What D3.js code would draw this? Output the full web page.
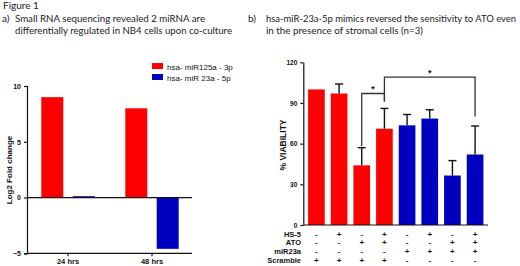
<!DOCTYPE html>
<html><head><meta charset="utf-8">
<script src="https://cdn.jsdelivr.net/npm/d3@7/dist/d3.min.js"></script>
<style>
body{margin:0;background:#fff;}
svg{display:block;}
.ttl{font-family:Lato,"Open Sans",sans-serif;font-size:10px;fill:#222;}
.ax{font-family:"Liberation Sans",Arial,sans-serif;font-weight:bold;font-size:7px;fill:#111;}
.lg{font-family:"Liberation Sans",Arial,sans-serif;font-size:8px;fill:#111;}
</style></head>
<body>
<svg id="c" width="520" height="266"></svg>
<script>
// ---- Panel a data ----
const groupsA = ["24 hrs", "48 hrs"];
const seriesA = ["hsa- miR125a - 3p", "hsa- miR 23a - 5p"];
const mir125a = [9.0, 8.0];
const mir23a = [0.12, -4.6];
const ticksA = [-5, 0, 5, 10];
const colorsA = ["#ff0000", "#0000bf"];

// ---- Panel b data ----
const conditionsB = ["c1","c2","c3","c4","c5","c6","c7","c8"];
const viability = [100, 97, 44, 71, 73.5, 78.5, 36.5, 52];
const errUp = [0, 7, 13, 15, 8, 6.5, 11, 21];
const colorsB = ["#ff0000","#ff0000","#ff0000","#ff0000","#0000bf","#0000bf","#0000bf","#0000bf"];
const ticksB = [0, 30, 60, 90, 120];
const rowLabels = ["HS-5", "ATO", "miR23a", "Scramble"];
const rowHS5 = ["-","+","-","+","-","+","-","+"];
const rowATO = ["-","-","+","+","-","-","+","+"];
const rowMiR = ["-","-","-","-","+","+","+","+"];
const rowScr = ["+","+","+","+","-","-","-","-"];
// significance brackets: [fromIndex, toIndex, level, leftLegEnd, rightLegEnd]
const brackets = [[2, 3, 97, 58, 91], [3, 7, 109, 91, 80]];

const svg = d3.select("#c");

// ---- Titles ----
function title(x, y, t, len, fs) {
  const el = svg.append("text").attr("class","ttl").attr("x",x).attr("y",y).text(t);
  if (fs) el.style("font-size", fs + "px");
  if (len) el.attr("textLength", len).attr("lengthAdjust","spacingAndGlyphs");
}
title(3, 9, "Figure 1");
title(2, 22, "a)");
title(15, 22, "Small RNA sequencing revealed 2 miRNA are", 190);
title(15, 34, "differentially regulated in NB4 cells upon co-culture", 217);
title(248, 22, "b)");
title(266, 22, "hsa-miR-23a-5p mimics reversed the sensitivity to ATO even", 250, 9.2);
title(266, 34, "in the presence of stromal cells (n=3)", 157);

// ---- Panel a ----
const yA = d3.scaleLinear().domain([-5, 10]).range([253.3, 86]);
const x0 = d3.scaleBand().domain(groupsA).range([26, 194]).padding(0);
const x1 = d3.scaleBand().domain(seriesA).range([15.3, 68.7]).paddingInner(0.3).paddingOuter(0);
const valsA = [mir125a, mir23a];

groupsA.forEach((g, gi) => {
  seriesA.forEach((s, si) => {
    const v = valsA[si][gi];
    svg.append("rect")
      .attr("x", x0(g) + x1(s))
      .attr("width", x1.bandwidth())
      .attr("y", yA(Math.max(0, v)))
      .attr("height", Math.abs(yA(v) - yA(0)))
      .attr("fill", colorsA[si]);
  });
});

const axA = svg.append("g").attr("transform","translate(27,0)")
  .call(d3.axisLeft(yA).tickValues(ticksA).tickSize(3).tickFormat(d3.format("d")));
axA.selectAll("text").attr("class","ax").attr("fill",null);
axA.selectAll("path,line").attr("stroke","#111").attr("stroke-width",1.2);
// zero line
svg.append("line").attr("x1",27).attr("x2",192).attr("y1",yA(0)).attr("y2",yA(0))
  .attr("stroke","#111").attr("stroke-width",1.2);
// bottom axis
const axAB = svg.append("g").attr("transform",`translate(0,${yA(-5)})`)
  .call(d3.axisBottom(x0).tickSize(3).tickSizeOuter(0));
axAB.select("path").attr("d", `M27,0H192`);
axAB.selectAll("text").attr("class","ax").attr("fill",null).attr("dy","0.6em").style("font-size","7.5px");
axAB.selectAll("path,line").attr("stroke","#111").attr("stroke-width",1.2);
// y title
svg.append("text").attr("class","ax").style("font-size","8px")
  .attr("transform","translate(12,170) rotate(-90)").attr("text-anchor","middle").text("Log2 Fold change");
// legend
seriesA.forEach((s, i) => {
  svg.append("rect").attr("x",152).attr("y",63 + i*11).attr("width",11).attr("height",6).attr("fill",colorsA[i]);
  svg.append("text").attr("class","lg").attr("x",167).attr("y",69.5 + i*11).text(s);
});

// ---- Panel b ----
const yB = d3.scaleLinear().domain([0, 120]).range([225, 62.3]);
const xB = d3.scaleBand().domain(conditionsB).range([304, 487.5]).paddingInner(0.265).paddingOuter(0.18);
const cx = i => xB(conditionsB[i]) + xB.bandwidth()/2;

conditionsB.forEach((c, i) => {
  svg.append("rect").attr("x", xB(c)).attr("width", xB.bandwidth())
    .attr("y", yB(viability[i])).attr("height", yB(0) - yB(viability[i]))
    .attr("fill", colorsB[i]);
  if (errUp[i] > 0) {
    const top = yB(viability[i] + errUp[i]);
    svg.append("line").attr("x1", cx(i)).attr("x2", cx(i)).attr("y1", yB(viability[i])).attr("y2", top)
      .attr("stroke","#111").attr("stroke-width",1.4);
    svg.append("line").attr("x1", cx(i)-4).attr("x2", cx(i)+4).attr("y1", top).attr("y2", top)
      .attr("stroke","#111").attr("stroke-width",1.4);
  }
});

const axB = svg.append("g").attr("transform","translate(303.3,0)")
  .call(d3.axisLeft(yB).tickValues(ticksB).tickSize(3).tickSizeOuter(0));
axB.selectAll("text").attr("class","ax").attr("fill",null).style("font-size","6.5px");
axB.selectAll("path,line").attr("stroke","#111").attr("stroke-width",1.2);
svg.append("line").attr("x1",303.3).attr("x2",488).attr("y1",yB(0)).attr("y2",yB(0))
  .attr("stroke","#111").attr("stroke-width",1.2);
svg.append("text").attr("class","ax").style("font-size","8.5px")
  .attr("transform","translate(286,145) rotate(-90)").attr("text-anchor","middle").text("% VIABILITY");

// brackets
brackets.forEach(b => {
  const [a, e, lvl, l1, l2] = b;
  const p = d3.path();
  p.moveTo(cx(a), yB(l1)); p.lineTo(cx(a), yB(lvl)); p.lineTo(cx(e), yB(lvl)); p.lineTo(cx(e), yB(l2));
  svg.append("path").attr("d", p.toString()).attr("fill","none").attr("stroke","#333").attr("stroke-width",1.3);
  svg.append("text").attr("class","ax").style("font-size","9px").attr("text-anchor","middle")
    .attr("x", (cx(a)+cx(e))/2).attr("y", yB(lvl) - 1).text("*");
});

// condition table
const rows = [rowHS5, rowATO, rowMiR, rowScr];
rows.forEach((r, ri) => {
  const y = 236.5 + ri*8.7;
  svg.append("text").attr("class","ax").style("font-size","7.5px").attr("text-anchor","end")
    .attr("x", 301).attr("y", y).text(rowLabels[ri]);
  r.forEach((s, i) => {
    svg.append("text").attr("class","ax").style("font-size","8px").attr("text-anchor","middle")
      .attr("x", cx(i)).attr("y", y).text(s);
  });
});
</script>
</body></html>
